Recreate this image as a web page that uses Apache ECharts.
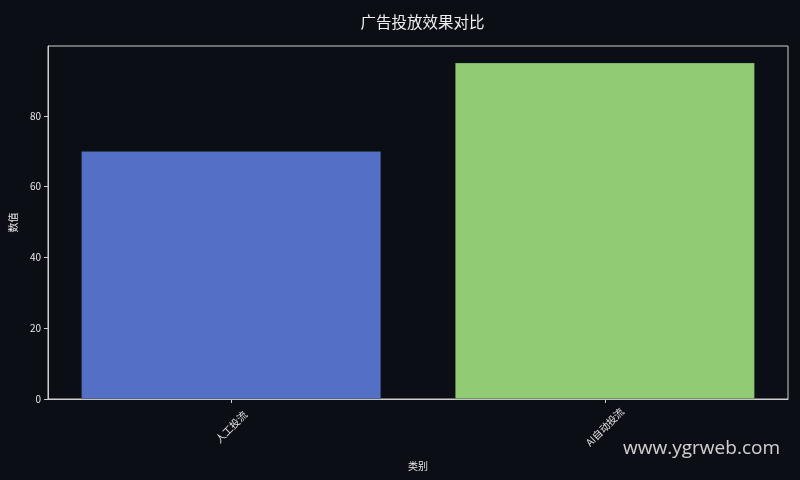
<!DOCTYPE html>
<html>
<head>
<meta charset="utf-8">
<script src="https://cdn.jsdelivr.net/npm/echarts@6/dist/echarts.min.js"></script>
<style>
html,body{margin:0;padding:0;background:#0b0e14;}
#chart{width:800px;height:480px;}
</style>
</head>
<body>
<div id="chart"></div>
<script>
const titleText = '广告投放效果对比';
const categories = ['人工投流', 'AI自动投流'];
const values = [70, 95];
const barColors = ['#5470c6', '#91cc75'];
const yTicks = [0, 20, 40, 60, 80];

const chart = echarts.init(document.getElementById('chart'));
const txt = '#e6e6e6';
const font = '"Noto Sans CJK SC", "DejaVu Sans", sans-serif';
const catIdx = categories.map((c, i) => i);
chart.setOption({
  backgroundColor: '#0b0e14',
  animation: false,
  title: {
    text: titleText,
    left: 417.5,
    textAlign: 'center',
    top: 9,
    textStyle: { color: '#f0f0f0', fontSize: 15.5, fontWeight: 'normal', fontFamily: font }
  },
  grid: {
    left: 47, right: 12, top: 46, bottom: 81,
    show: true, borderColor: '#cfcfcf', borderWidth: 1, backgroundColor: 'transparent'
  },
  xAxis: {
    type: 'value',
    min: -0.49,
    max: 1.49,
    name: '类别',
    nameLocation: 'middle',
    nameGap: 62,
    nameTextStyle: { color: txt, fontSize: 10, fontFamily: font },
    axisLine: { show: true, onZero: false, lineStyle: { color: '#cfcfcf', width: 1 } },
    axisTick: { show: true, customValues: catIdx, length: 4, lineStyle: { color: '#cfcfcf' } },
    axisLabel: {
      customValues: catIdx,
      rotate: 45, align: 'center', verticalAlign: 'middle',
      color: txt, fontSize: 10, fontFamily: font, margin: 28,
      formatter: v => categories[Math.round(v)] || ''
    },
    splitLine: { show: false }
  },
  yAxis: {
    type: 'value',
    min: 0,
    max: 99.75,
    name: '数值',
    nameLocation: 'middle',
    nameGap: 30,
    nameTextStyle: { color: txt, fontSize: 10, fontFamily: font },
    axisLine: { show: true, onZero: false, lineStyle: { color: '#cfcfcf', width: 1 } },
    axisTick: { show: true, customValues: yTicks, length: 4, lineStyle: { color: '#cfcfcf' } },
    axisLabel: {
      customValues: yTicks,
      color: txt, fontSize: 10, fontFamily: font, margin: 7
    },
    splitLine: { show: false }
  },
  series: [{
    type: 'bar',
    barWidth: 299.6,
    data: values.map((v, i) => ({
      value: [i, v],
      itemStyle: { color: barColors[i], borderColor: 'rgba(40,60,40,0.6)', borderWidth: 0.5 }
    }))
  }],
  graphic: [{
    type: 'text',
    right: 20,
    top: 439,
    style: {
      text: 'www.ygrweb.com',
      fill: 'rgba(230,230,230,0.9)',
      font: '19px "Open Sans", "Noto Sans", sans-serif'
    }
  }]
});
</script>
</body>
</html>
